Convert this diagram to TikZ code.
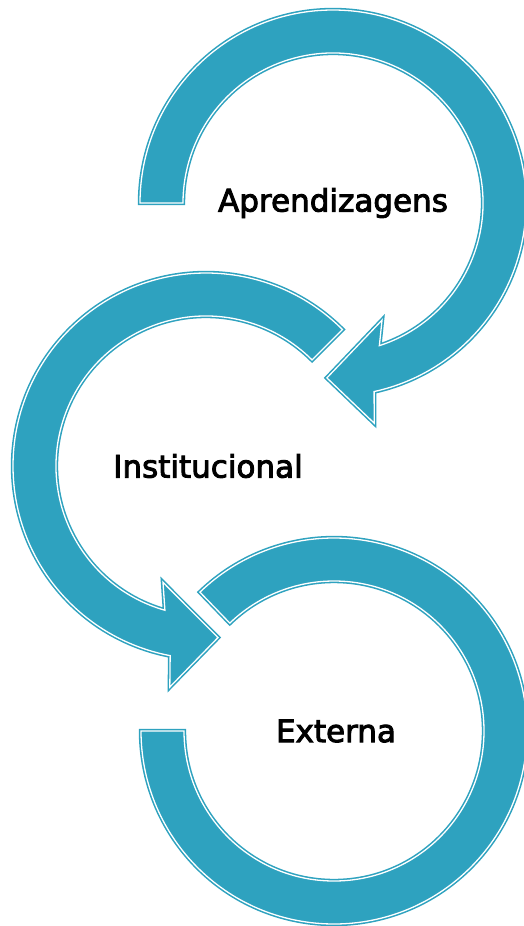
\documentclass[tikz,border=0pt]{standalone}
\usepackage{fontspec}
\setmainfont{DejaVu Sans}
\newfontfamily\lblfont[FakeBold=3]{DejaVu Sans}
\usetikzlibrary{calc}
\definecolor{ringteal}{RGB}{46,162,191}
\tikzset{
  ring/.style={fill=ringteal, draw=white, line width=1.3pt, line join=miter,
    preaction={draw=ringteal, line width=4.4pt, line join=miter}},
  lbl/.style={font=\lblfont\fontsize{31}{33}\selectfont, text=black, inner sep=0pt}
}
\begin{document}
\begin{tikzpicture}[x=1pt,y=-1pt]
\useasboundingbox (0,0) rectangle (524,926);
\coordinate (c1) at (333,203);
\coordinate (c2) at (206,466);
\coordinate (c3) at (334,731);
% ring 1 (clockwise, head at bottom)
\path[ring] ($(c1)+(180:193)$) arc[start angle=180,end angle=437.7,radius=193]
  -- ($(c1)+(439.4:224)$) -- ($(c1)+(452:175)$) -- ($(c1)+(427.3:127)$)
  -- ($(c1)+(432:150)$) arc[start angle=432,end angle=180,radius=150] -- cycle;
% ring 2 (counter-clockwise, head at bottom)
\path[ring] ($(c2)+(315:193)$) arc[start angle=315,end angle=100.7,radius=193]
  -- ($(c2)+(99.3:224)$) -- ($(c2)+(86:172)$) -- ($(c2)+(110.3:124)$)
  -- ($(c2)+(105.9:150)$) arc[start angle=105.9,end angle=315,radius=150] -- cycle;
% ring 3 (open ring)
\path[ring] ($(c3)+(226:193)$) arc[start angle=226,end angle=540,radius=193]
  -- ($(c3)+(540:150)$) arc[start angle=540,end angle=226,radius=150] -- cycle;
\node[lbl] (t1) at (c1) {Aprendizagens};
\node[lbl] (t2) at ([xshift=2pt]c2) {Institucional};
\node[lbl] (t3) at ([xshift=2pt]c3) {Externa};
\end{tikzpicture}
\end{document}
